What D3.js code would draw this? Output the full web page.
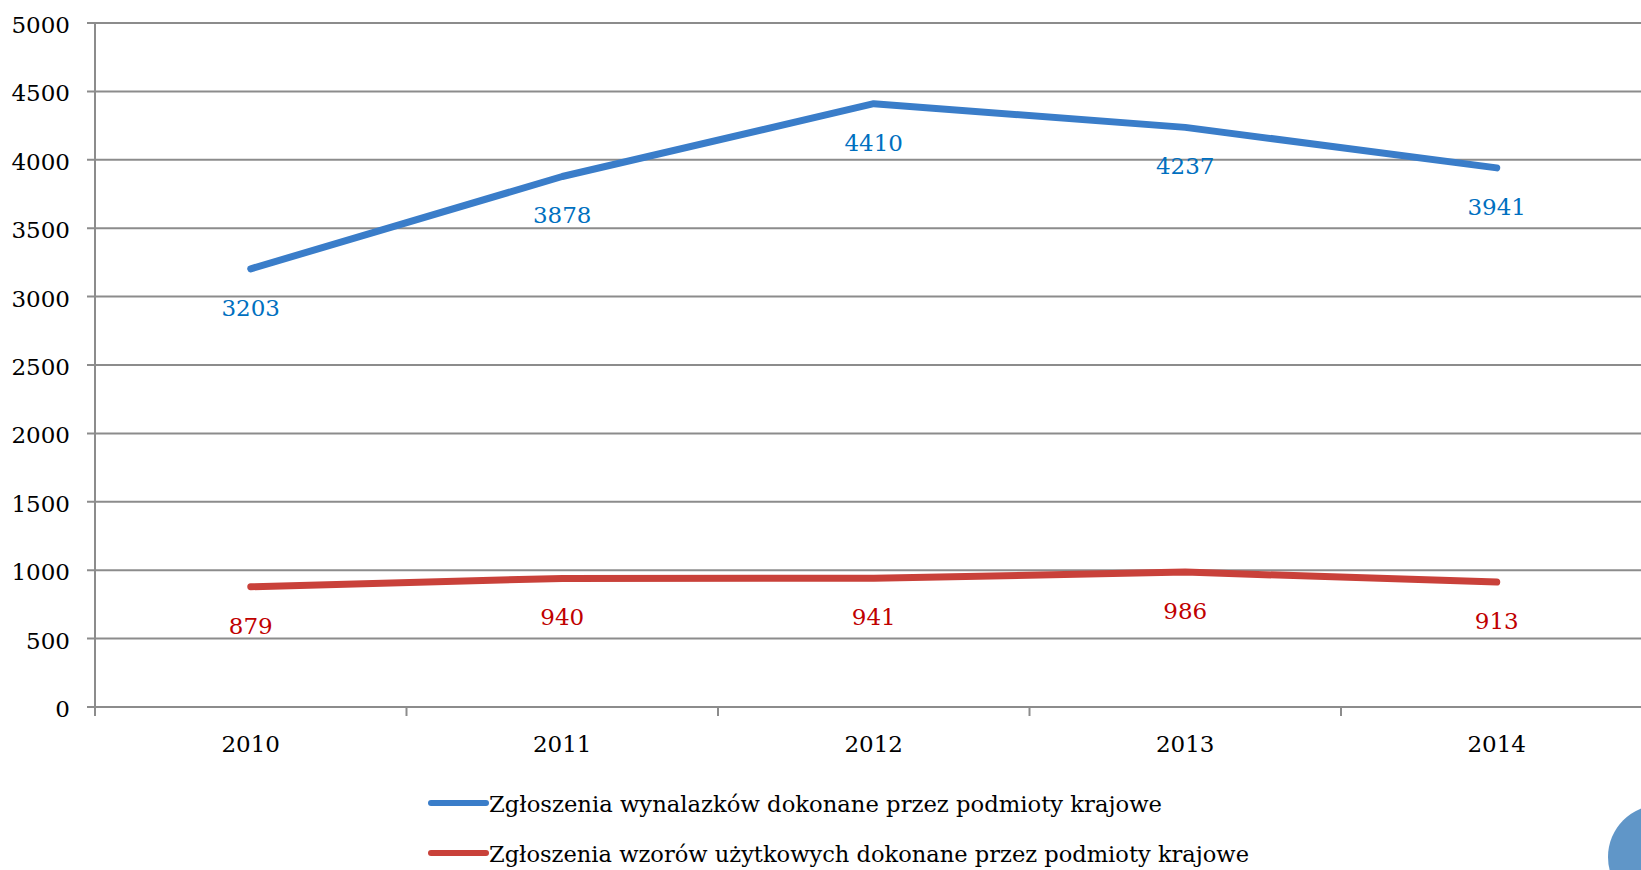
<!DOCTYPE html>
<html>
<head>
<meta charset="utf-8">
<script src="https://cdn.jsdelivr.net/npm/d3@7"></script>
<style>
  body { margin: 0; background: #fff; }
  svg { display: block; }
  text { font-family: "DejaVu Serif", serif; }
</style>
</head>
<body>
<div id="chart"></div>
<script>
var years = ["2010", "2011", "2012", "2013", "2014"];
var inventions = [3203, 3878, 4410, 4237, 3941];
var utilityModels = [879, 940, 941, 986, 913];
var yTicks = [0, 500, 1000, 1500, 2000, 2500, 3000, 3500, 4000, 4500, 5000];
var seriesNames = [
    "Zgłoszenia wynalazków dokonane przez podmioty krajowe",
    "Zgłoszenia wzorów użytkowych dokonane przez podmioty krajowe"
];

var width = 1641, height = 870;
var plotLeft = 95, plotTop = 23, plotBottom = 707;
var band = 311.5;

var svg = d3.select("#chart")
    .append("svg")
    .attr("width", width)
    .attr("height", height);

var x = d3.scaleBand()
    .domain(years)
    .range([plotLeft, plotLeft + band * years.length]);

var y = d3.scaleLinear()
    .domain([0, 5000])
    .range([plotBottom, plotTop]);

// gridlines
svg.append("g")
    .selectAll("line")
    .data(yTicks)
    .join("line")
    .attr("x1", plotLeft - 8)
    .attr("x2", width)
    .attr("y1", d => y(d))
    .attr("y2", d => y(d))
    .attr("stroke", "#8c8c8c")
    .attr("stroke-width", 2);

// y labels
svg.append("g")
    .selectAll("text")
    .data(yTicks)
    .join("text")
    .text(d => d)
    .attr("x", 70)
    .attr("y", d => y(d) + 10)
    .attr("text-anchor", "end")
    .attr("font-size", 23)
    .attr("fill", "#000");

// y axis line
svg.append("line")
    .attr("x1", plotLeft).attr("x2", plotLeft)
    .attr("y1", plotTop).attr("y2", plotBottom + 9)
    .attr("stroke", "#8c8c8c")
    .attr("stroke-width", 2);

// x ticks
var tickPos = years.map(d => x(d)).concat([x(years[4]) + band]);
svg.append("g")
    .selectAll("line")
    .data(tickPos.slice(1))
    .join("line")
    .attr("x1", d => d).attr("x2", d => d)
    .attr("y1", plotBottom).attr("y2", plotBottom + 9)
    .attr("stroke", "#8c8c8c")
    .attr("stroke-width", 2);

// x labels
svg.append("g")
    .selectAll("text")
    .data(years)
    .join("text")
    .text(d => d)
    .attr("x", d => x(d) + band / 2)
    .attr("y", 752)
    .attr("text-anchor", "middle")
    .attr("font-size", 23)
    .attr("fill", "#000");

var line = d3.line()
    .x((d, i) => x(years[i]) + band / 2)
    .y(d => y(d));

var series = [
    { values: inventions, color: "#3a7dc9", label: "#0070c0" },
    { values: utilityModels, color: "#c9413a", label: "#c00000" }
];

series.forEach(function (s) {
    svg.append("path")
        .attr("d", line(s.values))
        .attr("fill", "none")
        .attr("stroke", s.color)
        .attr("stroke-width", 7)
        .attr("stroke-linecap", "round")
        .attr("stroke-linejoin", "round");

    svg.append("g")
        .selectAll("text")
        .data(s.values)
        .join("text")
        .text(d => d)
        .attr("x", (d, i) => x(years[i]) + band / 2)
        .attr("y", d => y(d) + 47)
        .attr("text-anchor", "middle")
        .attr("font-size", 23)
        .attr("fill", s.label);
});

// legend
var legendY = [803, 853];
series.forEach(function (s, i) {
    svg.append("line")
        .attr("x1", 431).attr("x2", 486)
        .attr("y1", legendY[i]).attr("y2", legendY[i])
        .attr("stroke", s.color)
        .attr("stroke-width", 6)
        .attr("stroke-linecap", "round");

    svg.append("text")
        .text(seriesNames[i])
        .attr("x", 489)
        .attr("y", legendY[i] + 9)
        .attr("font-size", 23)
        .attr("textLength", i == 0 ? 673 : 760)
        .attr("lengthAdjust", "spacingAndGlyphs")
        .attr("fill", "#000");
});

// slide decoration
svg.append("circle")
    .attr("cx", 1660)
    .attr("cy", 857)
    .attr("r", 52)
    .attr("fill", "#6096c8");
</script>
</body>
</html>
